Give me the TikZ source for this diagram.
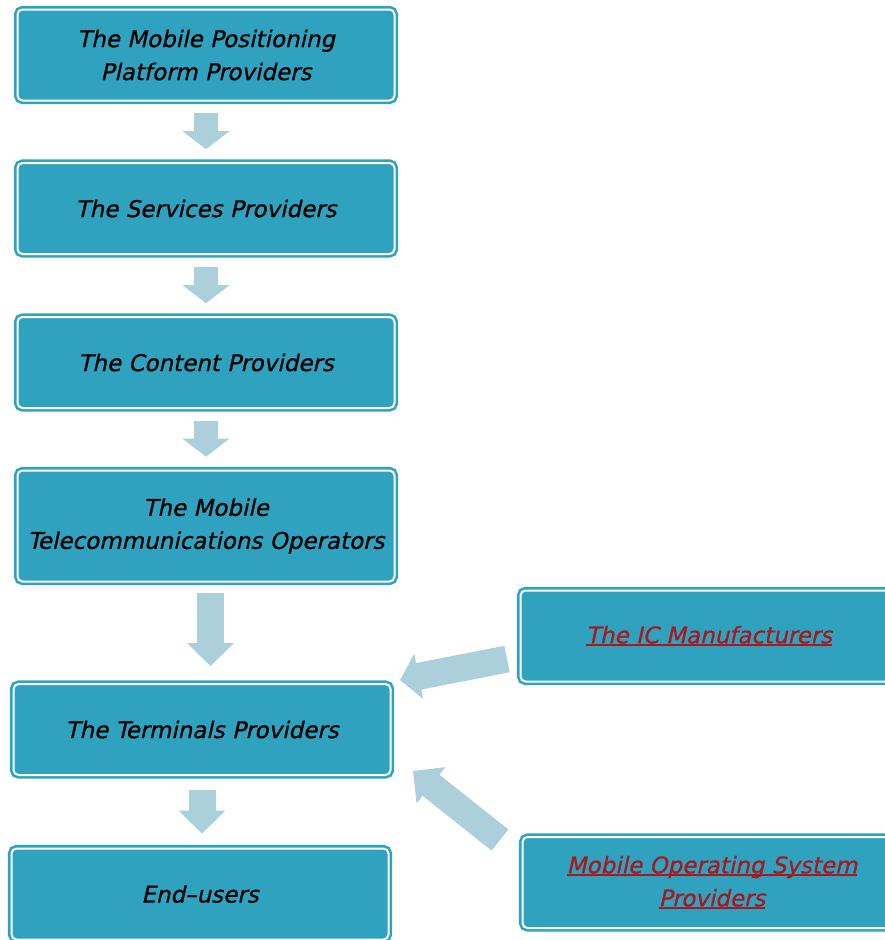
\documentclass[tikz,border=0pt]{standalone}
\usepackage{fontspec}
\setmainfont{DejaVu Sans}
% slanted, slightly heavier face for the box labels
\newfontfamily\stagefont[FakeSlant=0.22,FakeBold=0.7]{DejaVu Sans}
\usetikzlibrary{arrows.meta}

% underline a single line of text with a rule in the current colour
\newcommand\linkline[1]{%
  \setbox0\hbox{#1}%
  \rlap{\rule[-2.8pt]{\wd0}{1.7pt}}\box0}

\definecolor{boxteal}{RGB}{46,162,191}
\definecolor{flowblue}{RGB}{172,207,220}
\definecolor{linkred}{RGB}{168,24,30}

\tikzset{
  stage/.style={
    rounded corners=5pt, fill=boxteal, draw=boxteal,
    line width=2.6pt, double=white, double distance=2pt,
    minimum width=377pt, minimum height=91pt, inner sep=0pt,
    align=center, text=black,
    font=\stagefont\fontsize{23}{33}\selectfont},
  partner/.style={stage, text=linkred},
  flowsmall/.style={draw=flowblue, line width=24pt,
    -{Triangle[length=18pt,width=46pt]}},
  flowbig/.style={draw=flowblue, line width=27pt,
    -{Triangle[length=23pt,width=45pt]}},
}

\begin{document}
\begin{tikzpicture}[x=1pt,y=-1pt]
  \useasboundingbox (0,0) rectangle (885,940);
  \clip (0,0) rectangle (885,940);

  % value chain boxes
  \node[stage] (b1) at (206,55) {The Mobile Positioning\\Platform Providers};
  \node[stage] (b2) at (206,208.5) {The Services Providers};
  \node[stage] (b3) at (206,362.5) {The Content Providers};
  \node[stage, minimum height=111pt] (b4) at (206,526)
    {The Mobile\\Telecommunications Operators};
  \node[stage] (b5) at (202,729.5) {The Terminals Providers};
  \node[stage] (b6) at (200,894) {End–users};

  % suppliers feeding the terminals providers
  \node[partner] (ic) at (709,636) {\linkline{The IC Manufacturers}};
  \node[partner, minimum width=379pt] (mos) at (712,882.5)
    {\linkline{Mobile Operating System}\\\linkline{Providers}};

  % downward flow
  \draw[flowsmall, shorten <=11.5pt, shorten >=12.5pt] (b1.south) -- (b2.north);
  \draw[flowsmall, shorten <=11.5pt, shorten >=12.5pt] (b2.south) -- (b3.north);
  \draw[flowsmall, shorten <=11.5pt, shorten >=12.5pt] (b3.south) -- (b4.north);
  \draw[flowbig, shorten <=10.5pt, shorten >=16.5pt]
    ([xshift=4.5pt]b4.south) -- ([xshift=4.5pt]b4.south |- b5.north);
  \draw[flowbig, shorten <=13.5pt, shorten >=13.5pt]
    (b5.south) -- (b5.south |- b6.north);

  % diagonal inputs
  \coordinate (icTail) at (507,659);
  \coordinate (icTip) at (400,680);
  \coordinate (mosTail) at (500,840);
  \coordinate (mosTip) at (413,771);
  \draw[flowbig, -{Triangle[length=19pt,width=45pt]}] (icTail) -- (icTip);
  \draw[flowbig] (mosTail) -- (mosTip);
\end{tikzpicture}
\end{document}
